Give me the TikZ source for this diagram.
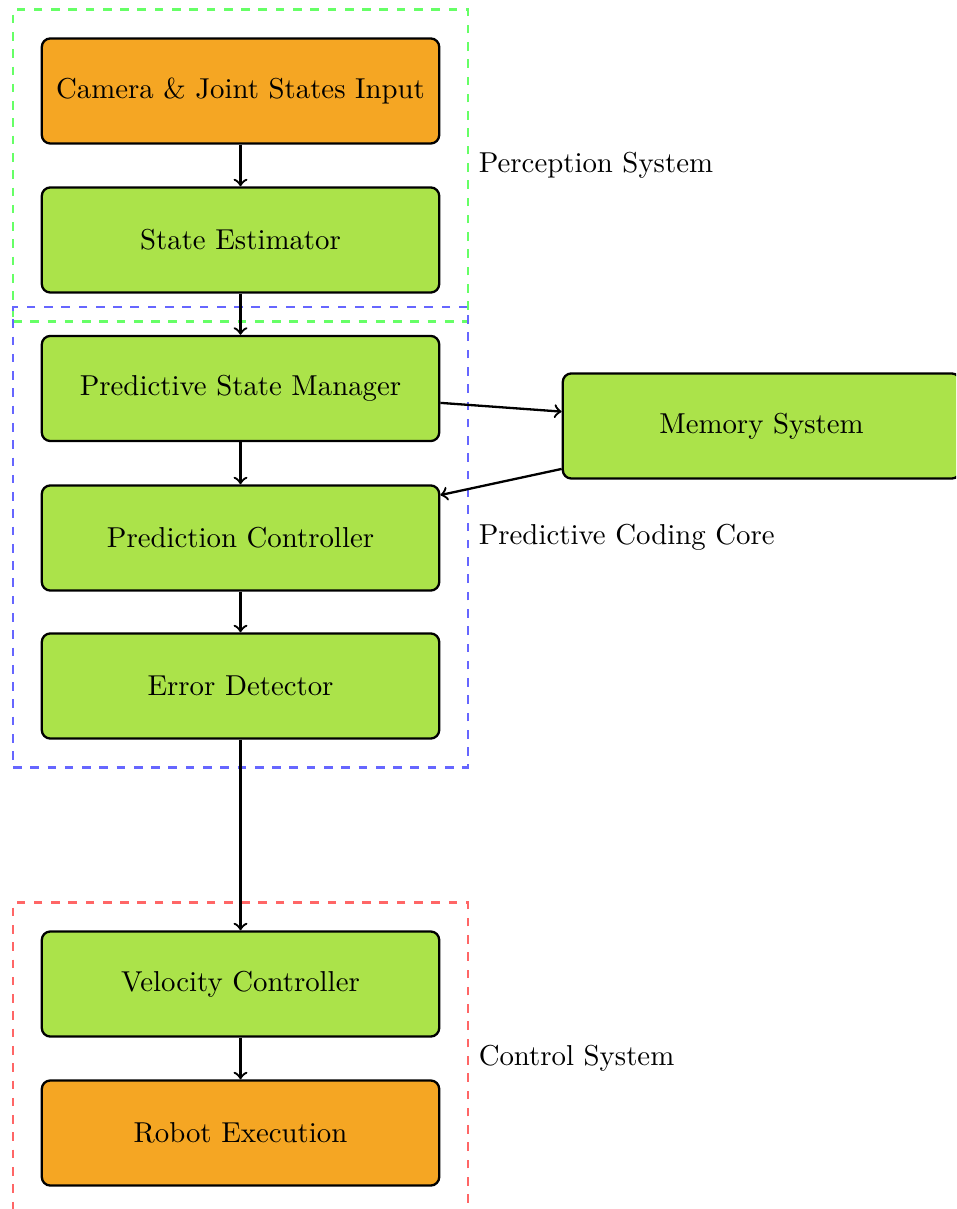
\documentclass[tikz,border=0pt]{standalone}
\usetikzlibrary{fit,positioning}
\definecolor{boxorange}{RGB}{245,166,35}
\definecolor{boxgreen}{RGB}{171,227,74}
\begin{document}
\begin{tikzpicture}[x=0.3472pt,y=-0.3472pt,
  box/.style={draw=black, thick, rounded corners=3pt, minimum width=138pt, minimum height=36.5pt, align=center, inner sep=0pt},
  inbox/.style={box, fill=boxorange},
  procbox/.style={box, fill=boxgreen},
  group/.style={draw, dashed, thick, inner sep=9.6pt},
  grouplabel/.style={anchor=west},
  arr/.style={->, thick}]
\useasboundingbox (0,0) rectangle (956,1209);
\clip (0,0) rectangle (956,1209);
\node[inbox] (cam) at (240.5,91) {Camera \& Joint States Input};
\node[procbox] (se) at (240.5,240) {State Estimator};
\node[procbox] (psm) at (240.5,388.5) {Predictive State Manager};
\node[procbox] (pc) at (240.5,538) {Prediction Controller};
\node[procbox] (ed) at (240.5,686) {Error Detector};
\node[procbox] (vc) at (240.5,984) {Velocity Controller};
\node[inbox] (re) at (240.5,1133) {Robot Execution};
\node[procbox] (mem) at (761.5,426) {Memory System};

\node[group, draw=green!60, fit=(cam)(se)] (gp) {};
\node[group, draw=blue!60, fit=(psm)(ed)] (gc) {};
\node[group, draw=red!60, fit=(vc)(re)] (gr) {};

\node[grouplabel, right=-0.2pt of gp] (lp) {Perception System};
\node[grouplabel, right=-0.2pt of gc] (lc) {Predictive Coding Core};
\node[grouplabel, right=-0.2pt of gr] (lr) {Control System};

\draw[arr] (cam) -- (se);
\draw[arr] (se) -- (psm);
\draw[arr] (psm) -- (pc);
\draw[arr] (pc) -- (ed);
\draw[arr] (ed) -- (vc);
\draw[arr] (vc) -- (re);
\draw[arr] (psm) -- (mem);
\draw[arr] (mem) -- (pc);
\end{tikzpicture}
\end{document}
